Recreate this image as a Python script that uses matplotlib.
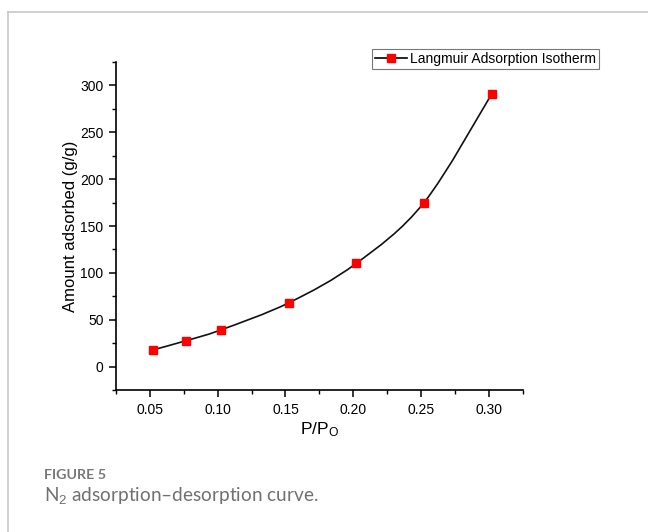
import numpy as np
import matplotlib
matplotlib.use("Agg")
import matplotlib.pyplot as plt
from matplotlib.path import Path
from matplotlib.patches import PathPatch
from matplotlib.lines import Line2D
from matplotlib.ticker import MultipleLocator

# Data
p_ratio = [0.0523, 0.0769, 0.1023, 0.1524, 0.2021, 0.2522, 0.3022]
amount = [17.8, 27.7, 39.1, 68.0, 110.0, 175.0, 291.0]
x_ticks = [0.05, 0.10, 0.15, 0.20, 0.25, 0.30]
y_ticks = [0, 50, 100, 150, 200, 250, 300]
series_name = "Langmuir Adsorption Isotherm"

plt.rcParams['font.family'] = ['Liberation Sans', 'DejaVu Sans']
plt.rcParams['mathtext.fontset'] = 'custom'
plt.rcParams['mathtext.rm'] = 'Liberation Sans'
plt.rcParams['mathtext.it'] = 'Liberation Sans:italic'

W, H = 648, 532
fig = plt.figure(figsize=(W / 100, H / 100), dpi=100)
ax = fig.add_axes([116 / W, 1 - 390 / H, (522.7 - 116) / W, (390 - 62) / H])

# smooth curve through the points (Catmull-Rom as cubic Bezier)
pts = np.column_stack([p_ratio, amount])
n = len(pts)
verts = [tuple(pts[0])]
codes = [Path.MOVETO]
for i in range(n - 1):
    p0 = pts[i - 1] if i > 0 else pts[i]
    p1 = pts[i]
    p2 = pts[i + 1]
    p3 = pts[i + 2] if i + 2 < n else pts[i + 1]
    c1 = p1 + (p2 - p0) / 6.0
    c2 = p2 - (p3 - p1) / 6.0
    verts += [tuple(c1), tuple(c2), tuple(p2)]
    codes += [Path.CURVE4] * 3
ax.add_patch(PathPatch(Path(verts, codes), facecolor='none', edgecolor='#111111', lw=1.2, zorder=2))
ax.plot(p_ratio, amount, linestyle='none', marker='s', ms=5.5, mfc='#ff0000', mec='#ff0000', zorder=3)

ax.set_xlim(0.025, 0.325)
ax.set_ylim(-25, 325)
ax.set_xticks(x_ticks)
ax.set_xticklabels([f"{v:.2f}" for v in x_ticks])
ax.set_yticks(y_ticks)
ax.set_yticklabels([str(v) for v in y_ticks])
ax.xaxis.set_minor_locator(MultipleLocator(0.025))
ax.yaxis.set_minor_locator(MultipleLocator(25))
ax.spines['top'].set_visible(False)
ax.spines['right'].set_visible(False)
for s in ('left', 'bottom'):
    ax.spines[s].set_linewidth(1.2)
ax.tick_params(which='major', length=5, width=1.1, labelsize=10, colors='black', pad=4)
ax.tick_params(which='minor', length=3, width=1.0)

ax.set_ylabel("Amount adsorbed (g/g)", fontsize=12, labelpad=1.8)
ax.set_xlabel(r"P/P$_\mathrm{O}$", fontsize=12.5, labelpad=3)

handle = Line2D([], [], color='black', lw=1.2, marker='s', ms=5.5, mfc='#ff0000', mec='#ff0000')
leg = fig.legend([handle], [series_name], loc='upper right',
                 bbox_to_anchor=(599 / W, 1 - 49.3 / H), bbox_transform=fig.transFigure,
                 borderaxespad=0, fontsize=10, frameon=True, fancybox=False,
                 handlelength=2.3, handletextpad=0.25, borderpad=0.2)
leg.get_frame().set_edgecolor('#555555')
leg.get_frame().set_linewidth(0.8)

# card frame
fig.add_artist(Line2D([8 / W, 1.0], [1 - 12 / H, 1 - 12 / H], color='#c8c8c8', lw=1.2, transform=fig.transFigure))
fig.add_artist(Line2D([8 / W, 8 / W], [0.0, 1 - 12 / H], color='#c8c8c8', lw=1.2, transform=fig.transFigure))

fig.text(44 / W, 1 - 479 / H, "FIGURE 5", family=['Lato', 'DejaVu Sans'], weight='bold',
         fontsize=10.3, color='#777777', va='baseline', ha='left')
fig.text(44 / W, 1 - 501 / H, "N$_2$ adsorption\u2013desorption curve.",
         family=['Lato', 'DejaVu Sans'], fontsize=13.7, color='#707070', va='baseline', ha='left')

fig.savefig("out.png", dpi=100)
